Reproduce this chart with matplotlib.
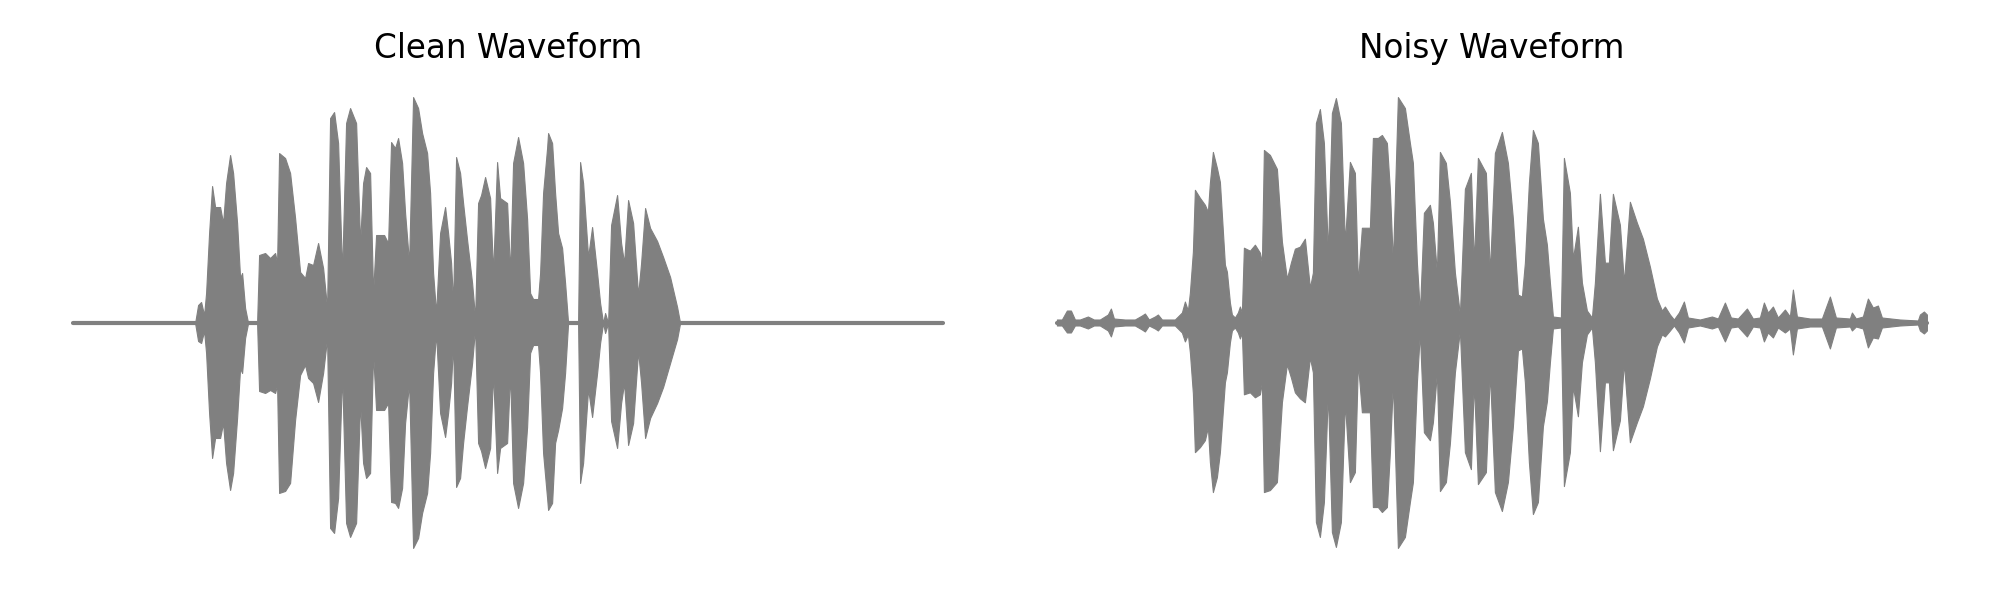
import numpy as np
import matplotlib
matplotlib.use("Agg")
import matplotlib.pyplot as plt

# envelope of the waveforms: time in s, amplitude in int16-like units
clean_t = [0.00, 1.22, 1.25, 1.28, 1.31, 1.33, 1.36, 1.39, 1.42, 1.47, 1.50, 1.53, 1.57, 1.60, 1.64,
           1.67, 1.69, 1.72, 1.75, 1.84, 1.86, 1.92, 1.97, 2.02, 2.04, 2.06, 2.12, 2.17, 2.22, 2.27,
           2.32, 2.35, 2.40, 2.45, 2.50, 2.54, 2.57, 2.61, 2.65, 2.69, 2.73, 2.77, 2.83, 2.87, 2.90,
           2.93, 2.97, 3.00, 3.03, 3.11, 3.15, 3.18, 3.22, 3.25, 3.29, 3.32, 3.36, 3.40, 3.45, 3.49,
           3.54, 3.57, 3.60, 3.63, 3.67, 3.72, 3.75, 3.78, 3.80, 3.83, 3.87, 3.90, 3.94, 3.99, 4.02,
           4.05, 4.08, 4.12, 4.17, 4.20, 4.24, 4.27, 4.34, 4.37, 4.40, 4.45, 4.50, 4.54, 4.57, 4.60,
           4.65, 4.67, 4.70, 4.74, 4.75, 4.79, 4.82, 4.85, 4.89, 4.92, 4.95, 5.05, 5.07, 5.10, 5.15,
           5.19, 5.24, 5.27, 5.30, 5.32, 5.35, 5.38, 5.44, 5.48, 5.51, 5.55, 5.60, 5.65, 5.68, 5.72,
           5.77, 5.84, 5.90, 5.97, 6.04, 6.07, 8.70]
clean_hi = [0, 0, 1800, 2100, 800, 3000, 9000, 13700, 11600, 11600, 10000, 14000, 16800, 15000, 10000,
            4500, 5000, 1500, 0, 0, 6800, 7000, 6500, 7000, 6000, 17000, 16500, 15000, 10500, 5100,
            4500, 6000, 5800, 8000, 5500, 1500, 20500, 21100, 18000, 5000, 20000, 21500, 20000, 8000, 14000,
            15600, 15000, 3000, 8800, 8800, 8000, 18100, 17500, 18500, 16000, 11000, 6000, 22600, 21500, 19000,
            17000, 13000, 5000, 1000, 9000, 11600, 9000, 6000, 2000, 16600, 15000, 12000, 8300, 4000, 500,
            12000, 12800, 14600, 12500, 5000, 16100, 12500, 12000, 5000, 16000, 18600, 16000, 10400, 3000, 2400,
            2400, 5000, 13000, 17500, 19000, 18000, 13000, 9000, 7500, 4000, 0, 0, 16100, 14000, 6600,
            9600, 5000, 2000, 0, 1000, 0, 9800, 12800, 8000, 6000, 12300, 10000, 2800, 6000, 11500,
            9500, 8200, 6600, 4600, 1600, 0, 0]
clean_lo = [0, 0, -1800, -2000, -800, -3000, -9000, -13500, -11500, -11500, -10000, -14000, -16700, -15000, -9500,
            -4500, -5000, -1500, 0, 0, -6800, -7000, -6700, -7000, -6200, -17000, -16800, -16000, -9700, -5200,
            -4200, -5500, -6000, -7900, -5000, -1500, -20500, -21000, -17500, -5000, -20000, -21400, -20000, -8000, -14000,
            -15500, -15000, -3000, -8700, -8700, -8000, -17900, -18000, -18500, -16500, -10000, -6000, -22500, -21500, -19000,
            -17000, -13000, -5000, -1000, -9000, -11400, -9000, -6000, -2000, -16400, -15500, -12000, -8300, -4000, -500,
            -12000, -12800, -14500, -12500, -5000, -15000, -12500, -12000, -5000, -16000, -18500, -16000, -10400, -3000, -2200,
            -2200, -5000, -13000, -17500, -18700, -18000, -12000, -10700, -8500, -5000, 0, 0, -16000, -14000, -6600,
            -9400, -5000, -2000, 0, -1000, 0, -9800, -12500, -8000, -6000, -12200, -10000, -2800, -6000, -11500,
            -9500, -8000, -6400, -4000, -1600, 0, 0]

noisy_t = [0.00, 0.05, 0.10, 0.14, 0.18, 0.23, 0.31, 0.37, 0.43, 0.51, 0.54, 0.57, 0.68, 0.78, 0.85,
           0.88, 0.92, 0.98, 1.01, 1.05, 1.18, 1.25, 1.28, 1.31, 1.33, 1.36, 1.38, 1.43, 1.48, 1.51,
           1.53, 1.56, 1.60, 1.63, 1.68, 1.70, 1.73, 1.75, 1.78, 1.81, 1.83, 1.85, 1.87, 1.93, 1.98,
           2.03, 2.05, 2.07, 2.13, 2.20, 2.25, 2.30, 2.34, 2.38, 2.43, 2.48, 2.53, 2.56, 2.59, 2.63,
           2.67, 2.71, 2.75, 2.79, 2.84, 2.88, 2.93, 2.98, 3.01, 3.05, 3.13, 3.16, 3.21, 3.25, 3.30,
           3.33, 3.36, 3.41, 3.48, 3.53, 3.56, 3.60, 3.63, 3.67, 3.73, 3.76, 3.80, 3.83, 3.89, 3.93,
           3.98, 4.03, 4.08, 4.14, 4.17, 4.21, 4.29, 4.33, 4.38, 4.45, 4.51, 4.56, 4.61, 4.65, 4.68,
           4.72, 4.76, 4.81, 4.86, 4.90, 4.93, 4.96, 5.04, 5.07, 5.13, 5.16, 5.21, 5.25, 5.30, 5.35,
           5.38, 5.43, 5.48, 5.52, 5.56, 5.63, 5.67, 5.73, 5.80, 5.86, 5.93, 6.00, 6.05, 6.08, 6.13,
           6.17, 6.22, 6.27, 6.31, 6.43, 6.55, 6.61, 6.68, 6.74, 6.81, 6.90, 6.96, 7.03, 7.07, 7.11,
           7.16, 7.21, 7.28, 7.33, 7.36, 7.40, 7.53, 7.65, 7.73, 7.79, 7.93, 7.95, 7.99, 8.06, 8.11,
           8.16, 8.21, 8.25, 8.43, 8.61, 8.63, 8.67, 8.70]
noisy_hi = [300, 300, 1200, 1200, 300, 300, 600, 300, 300, 800, 1400, 400, 300, 300, 700,
            900, 300, 600, 800, 300, 300, 1000, 2100, 1200, 3000, 7100, 13300, 12500, 11800, 11100,
            14000, 17100, 15500, 14100, 5800, 5100, 2000, 800, 500, 1000, 1600, 1000, 7500, 7200, 7800,
            7000, 6000, 17300, 16800, 15400, 8100, 4400, 6000, 7400, 7600, 8400, 3500, 5000, 20000, 21400,
            18000, 7000, 21000, 22500, 20000, 8000, 16100, 15000, 4000, 9500, 9500, 18500, 18500, 18800, 18000,
            13300, 6000, 22600, 21500, 18000, 16000, 6000, 1000, 11000, 11800, 10000, 5000, 17100, 16000, 12100,
            5000, 800, 13400, 15000, 6000, 16500, 15000, 5000, 17000, 19100, 16000, 10400, 2800, 2600, 6000,
            14000, 19300, 18000, 10400, 7800, 4000, 600, 500, 16500, 13000, 6400, 9600, 4000, 1200, 500,
            4000, 12900, 6000, 6000, 12900, 9800, 4000, 12100, 10000, 8400, 5600, 2400, 1200, 1600, 800,
            300, 1000, 2100, 500, 300, 600, 400, 2000, 500, 400, 1400, 400, 500, 2000, 1000,
            1600, 500, 1300, 600, 3300, 600, 400, 400, 2600, 500, 400, 1000, 400, 600, 2400,
            1500, 1700, 500, 300, 200, 800, 1100, 800]
noisy_lo = [-300, -300, -1000, -1000, -300, -300, -600, -300, -300, -800, -1400, -400, -300, -300, -700,
            -900, -300, -600, -800, -300, -300, -1000, -1900, -1200, -3000, -7100, -13000, -12500, -11800, -10500,
            -14000, -17000, -15500, -13000, -6000, -5000, -2000, -800, -500, -1000, -1600, -1000, -7200, -7000, -7500,
            -7200, -6000, -17000, -16800, -16000, -8000, -4200, -5500, -7000, -7600, -8000, -3500, -5000, -20000, -21500,
            -18000, -7000, -21000, -22500, -20000, -8000, -16000, -15000, -4000, -9000, -9000, -18500, -18500, -19000, -18500,
            -13000, -6000, -22600, -21500, -18000, -16000, -6000, -1000, -11000, -11800, -10000, -5000, -16900, -16000, -12100,
            -5000, -800, -13000, -14700, -6000, -16200, -15000, -5000, -17000, -18900, -16000, -10400, -2800, -2600, -6000,
            -14000, -19200, -18000, -10400, -7900, -4000, -600, -500, -16400, -13000, -6400, -9400, -4000, -1200, -500,
            -4000, -12900, -6000, -6000, -12800, -9800, -4000, -12000, -10000, -8400, -5600, -2400, -1200, -1400, -800,
            -300, -1000, -2000, -500, -300, -600, -400, -1900, -500, -400, -1400, -400, -500, -1900, -1000,
            -1500, -500, -1000, -600, -3200, -600, -400, -400, -2600, -500, -400, -800, -400, -600, -2500,
            -1500, -1600, -500, -300, -200, -800, -1100, -800]

titles = ["Clean Waveform", "Noisy Waveform"]

fig, axes = plt.subplots(1, 2, figsize=(20, 6), dpi=100)
fig.subplots_adjust(left=0.0148, right=0.9852, bottom=0.0492, top=0.8758, wspace=0.028)

for ax, t, hi, lo, title in zip(axes, [clean_t, noisy_t], [clean_hi, noisy_hi],
                                [clean_lo, noisy_lo], titles):
    t = np.array(t)
    ax.fill_between(t, lo, hi, color="gray", linewidth=0.8, edgecolor="gray")
    ax.plot(t, np.zeros_like(t), color="gray", linewidth=3, solid_capstyle="round")
    ax.set_title(title, fontsize=23.5, pad=12)
    ax.axis("off")

plt.savefig("out.png")
